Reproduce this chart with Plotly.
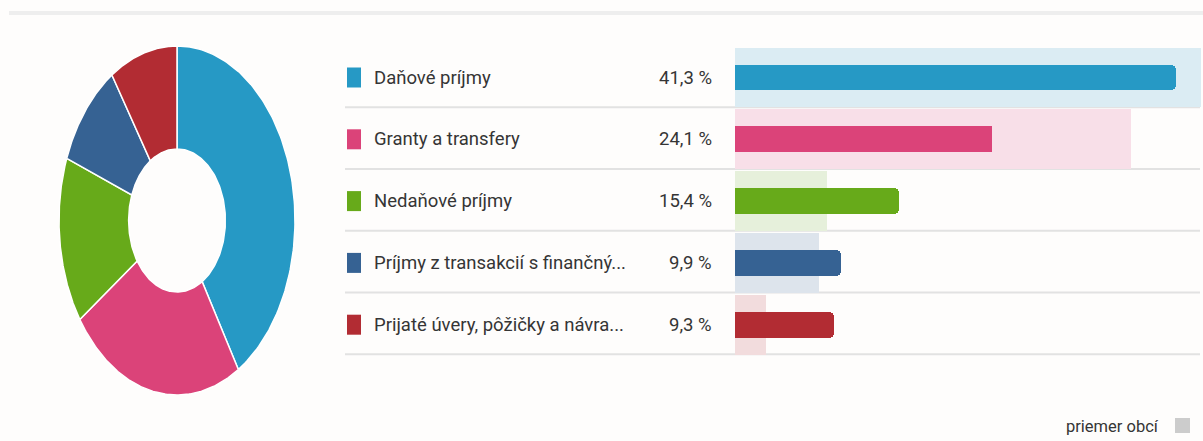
import numpy as np
import plotly.graph_objects as go

# ---- data ----
categories = [
    "Daňové príjmy",
    "Granty a transfery",
    "Nedaňové príjmy",
    "Príjmy z transakcií s finančný...",
    "Prijaté úvery, pôžičky a návra...",
]
values = [41.3, 24.1, 15.4, 9.9, 9.3]          # share of municipality, %
average = [43.6, 37.1, 8.6, 7.9, 2.9]          # priemer obcí, %
colors = ["#2699c5", "#db4379", "#67aa1a", "#366293", "#b22c33"]
light_colors = ["#dbecf3", "#f8dfe8", "#e6f0db", "#dde4ec", "#f2dcdd"]
value_labels = ["41,3 %", "24,1 %", "15,4 %", "9,9 %", "9,3 %"]
legend_note = "priemer obcí"

W, H = 1203, 441
FONT = "Roboto, Arial, sans-serif"
TXT = "#353535"

# row geometry (pixels)
ROW0, PITCH = 77.5, 61.8
n = len(categories)
rows = list(range(n))

fig = go.Figure()

# ---- bars (xaxis / yaxis) ----
bar_x0 = 735
px_per_pct = 10.68
x_max = (W - bar_x0) / px_per_pct
y_top = -ROW0 / PITCH
y_bot = (H - ROW0) / PITCH

fig.add_trace(go.Bar(
    y=rows, x=average, orientation="h", width=0.97,
    marker=dict(color=light_colors, line=dict(width=0)),
    hoverinfo="skip", showlegend=False, xaxis="x", yaxis="y",
))
fig.add_trace(go.Bar(
    y=rows, x=values, orientation="h", width=0.42,
    marker=dict(color=colors, line=dict(width=0), cornerradius=5),
    hoverinfo="skip", showlegend=False, xaxis="x", yaxis="y",
))

# ---- donut (xaxis2 / yaxis2, unit ellipse stretched by domain) ----
hole = 0.41
total = sum(values)
cum = 0.0
for v, c, name in zip(values, colors, categories):
    f0, f1 = cum / total, (cum + v) / total
    cum += v
    t = np.linspace(f0, f1, 120)
    ang = np.pi / 2 - 2 * np.pi * t
    xo, yo = np.cos(ang), np.sin(ang)
    xs = np.concatenate([xo, hole * xo[::-1], [xo[0]]])
    ys = np.concatenate([yo, hole * yo[::-1], [yo[0]]])
    fig.add_trace(go.Scatter(
        x=xs, y=ys, mode="lines", fill="toself", fillcolor=c,
        line=dict(color="#ffffff", width=1.5), hoverinfo="skip",
        showlegend=False, xaxis="x2", yaxis="y2",
    ))

shapes = []
annotations = []

# top divider line
shapes.append(dict(type="line", xref="paper", yref="paper",
                   x0=9 / W, x1=1, y0=1 - 13 / H, y1=1 - 13 / H,
                   line=dict(color="#eeeeee", width=4), layer="below"))

for i in rows:
    # separator
    shapes.append(dict(type="line", xref="paper", yref="y",
                       x0=345 / W, x1=1200 / W, y0=i + 0.48, y1=i + 0.48,
                       line=dict(color="#e2e2e2", width=2), layer="below"))
    # swatch
    shapes.append(dict(type="rect", xref="paper", yref="y",
                       x0=347 / W, x1=361 / W, y0=i - 10 / PITCH, y1=i + 10 / PITCH,
                       fillcolor=colors[i], line=dict(width=0)))
    annotations.append(dict(xref="paper", yref="y", x=372 / W, y=i,
                            text=categories[i], showarrow=False,
                            xanchor="left", yanchor="middle",
                            font=dict(family=FONT, size=18.5, color=TXT)))
    annotations.append(dict(xref="paper", yref="y", x=714 / W, y=i,
                            text=value_labels[i], showarrow=False,
                            xanchor="right", yanchor="middle",
                            font=dict(family=FONT, size=18.5, color=TXT)))

# legend note
annotations.append(dict(xref="paper", yref="paper", x=1161 / W, y=1 - 426 / H,
                        text=legend_note, showarrow=False,
                        xanchor="right", yanchor="middle",
                        font=dict(family=FONT, size=16.5, color=TXT)))
shapes.append(dict(type="rect", xref="paper", yref="paper",
                   x0=1175 / W, x1=1190 / W, y0=1 - 433 / H, y1=1 - 418 / H,
                   fillcolor="#cccccc", line=dict(width=0)))

fig.update_layout(
    width=W, height=H,
    margin=dict(l=0, r=0, t=0, b=0),
    paper_bgcolor="#fefdfc", plot_bgcolor="rgba(0,0,0,0)",
    barmode="overlay", bargap=0,
    showlegend=False,
    xaxis=dict(domain=[bar_x0 / W, 1], range=[0, x_max], visible=False, fixedrange=True),
    yaxis=dict(domain=[0, 1], range=[y_bot, y_top], visible=False, fixedrange=True),
    xaxis2=dict(domain=[59 / W, 295 / W], range=[-1, 1], visible=False, fixedrange=True),
    yaxis2=dict(domain=[1 - 395 / H, 1 - 46 / H], range=[-1, 1], visible=False, fixedrange=True),
    shapes=shapes, annotations=annotations,
)

fig.write_html("out.html", config={"displayModeBar": False},
               post_script="document.body.style.margin='0';")
